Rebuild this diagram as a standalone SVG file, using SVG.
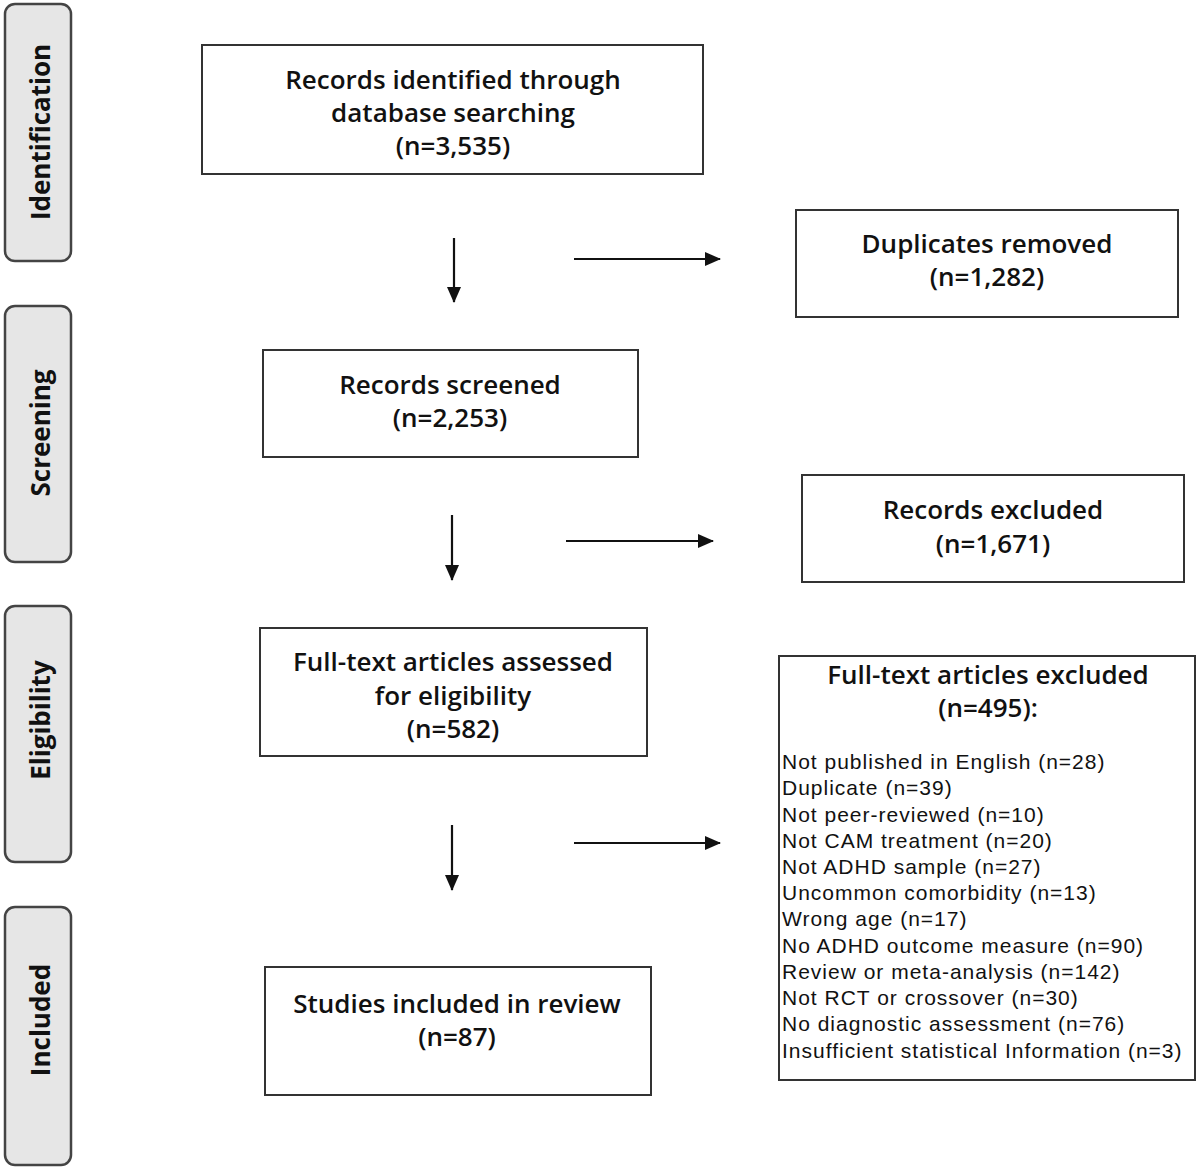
<svg xmlns="http://www.w3.org/2000/svg" width="1200" height="1168" viewBox="0 0 1200 1168">
<style>
.bg{fill:#fff}
.side rect{fill:#e6e6e6;stroke:#444;stroke-width:2.5}
.side text{font-family:"Open Sans","Noto Sans",sans-serif;font-weight:bold;font-size:26px;fill:#111;text-anchor:middle;dominant-baseline:central}
.box rect{fill:#fff;stroke:#333;stroke-width:2}
.box text{font-family:"Open Sans","Noto Sans",sans-serif;font-weight:600;font-size:26px;fill:#111;text-anchor:middle;dominant-baseline:central}
.box text.l{font-family:"Liberation Sans",Arial,sans-serif;font-weight:normal;font-size:21px;letter-spacing:1px;text-anchor:start}
.conn line{stroke:#111;stroke-width:2.2}
</style>
<defs>
<marker id="ahb" markerWidth="16" markerHeight="14" refX="15" refY="7" orient="auto" markerUnits="userSpaceOnUse" viewBox="0 0 16 14">
<path d="M0,0 L16,7 L0,14 z" fill="#111"/>
</marker>
</defs>
<rect class="bg" width="1200" height="1168"/>
<g id="side-identification" class="side"><rect x="5" y="4" width="66" height="257" rx="10"/><text transform="translate(40,132) rotate(-90)">Identification</text></g>
<g id="side-screening" class="side"><rect x="5" y="306" width="66" height="256" rx="10"/><text transform="translate(40,433) rotate(-90)">Screening</text></g>
<g id="side-eligibility" class="side"><rect x="5" y="606" width="66" height="256" rx="10"/><text transform="translate(40,720) rotate(-90)">Eligibility</text></g>
<g id="side-included" class="side"><rect x="5" y="907" width="66" height="258" rx="10"/><text transform="translate(40,1020) rotate(-90)">Included</text></g>

<g id="identified" class="box"><rect x="202" y="45" width="501" height="129"/>
<text x="453" y="79">Records identified through</text>
<text x="453" y="112">database searching</text>
<text x="453" y="145">(n=3,535)</text></g>
<g id="duplicates" class="box"><rect x="796" y="210" width="382" height="107"/>
<text x="987" y="243">Duplicates removed</text>
<text x="987" y="276">(n=1,282)</text></g>
<g id="screened" class="box"><rect x="263" y="350" width="375" height="107"/>
<text x="450" y="384">Records screened</text>
<text x="450" y="417">(n=2,253)</text></g>
<g id="excluded" class="box"><rect x="802" y="475" width="382" height="107"/>
<text x="993" y="509">Records excluded</text>
<text x="993" y="543">(n=1,671)</text></g>
<g id="fulltext" class="box"><rect x="260" y="628" width="387" height="128"/>
<text x="453" y="661">Full-text articles assessed</text>
<text x="453" y="695">for eligibility</text>
<text x="453" y="728">(n=582)</text></g>
<g id="fulltext-excluded" class="box"><rect x="779" y="656" width="416" height="424"/>
<text x="988" y="674">Full-text articles excluded</text>
<text x="988" y="707">(n=495):</text>
<text class="l" x="782" y="761">Not published in English (n=28)</text>
<text class="l" x="782" y="787">Duplicate (n=39)</text>
<text class="l" x="782" y="814">Not peer-reviewed (n=10)</text>
<text class="l" x="782" y="840">Not CAM treatment (n=20)</text>
<text class="l" x="782" y="866">Not ADHD sample (n=27)</text>
<text class="l" x="782" y="892">Uncommon comorbidity (n=13)</text>
<text class="l" x="782" y="918">Wrong age (n=17)</text>
<text class="l" x="782" y="945">No ADHD outcome measure (n=90)</text>
<text class="l" x="782" y="971">Review or meta-analysis (n=142)</text>
<text class="l" x="782" y="997">Not RCT or crossover (n=30)</text>
<text class="l" x="782" y="1023">No diagnostic assessment (n=76)</text>
<text class="l" x="782" y="1050">Insufficient statistical Information (n=3)</text></g>
<g id="included" class="box"><rect x="265" y="967" width="386" height="128"/>
<text x="457" y="1003">Studies included in review</text>
<text x="457" y="1036">(n=87)</text></g>

<g id="connectors" class="conn">
<line x1="454" y1="238" x2="454" y2="302" marker-end="url(#ahb)"/>
<line x1="574" y1="259" x2="720" y2="259" marker-end="url(#ahb)"/>
<line x1="452" y1="515" x2="452" y2="580" marker-end="url(#ahb)"/>
<line x1="566" y1="541" x2="713" y2="541" marker-end="url(#ahb)"/>
<line x1="452" y1="825" x2="452" y2="890" marker-end="url(#ahb)"/>
<line x1="574" y1="843" x2="720" y2="843" marker-end="url(#ahb)"/>
</g>
</svg>
